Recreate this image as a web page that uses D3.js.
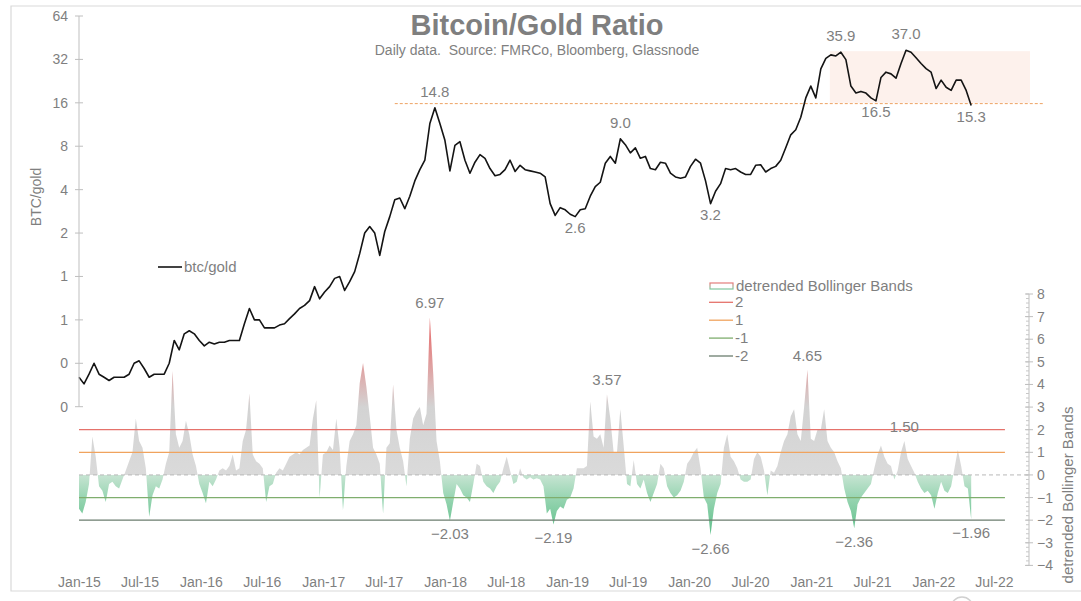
<!DOCTYPE html>
<html>
<head>
<meta charset="utf-8">
<script src="https://cdn.jsdelivr.net/npm/d3@7"></script>
<style>
  body { margin: 0; background: #fff; }
  svg { font-family: "Liberation Sans", Arial, sans-serif; }
  .lbl { fill: #7f7f7f; font-size: 14px; }
  .note { fill: #7f7f7f; font-size: 15px; text-anchor: middle; }
</style>
</head>
<body>
<svg id="chart" width="1081" height="601"></svg>
<script>
// btc/gold ratio, one reading every 15 days from 1 Jan 2015
var startDate = new Date(Date.UTC(2015, 0, 1));
var lineStepDays = 15;
var btcGold = [
  0.20,0.18,0.21,0.25,0.21,0.20,0.19,0.20,0.20,0.20,
  0.21,0.25,0.26,0.23,0.20,0.21,0.21,0.21,0.25,0.36,
  0.31,0.40,0.42,0.40,0.36,0.33,0.35,0.34,0.35,0.35,
  0.36,0.36,0.36,0.47,0.60,0.50,0.50,0.44,0.44,0.44,
  0.46,0.47,0.51,0.55,0.60,0.63,0.68,0.85,0.70,0.78,
  0.85,0.97,1.00,0.80,0.92,1.08,1.44,2.00,2.22,2.00,
  1.40,2.05,2.60,3.40,3.50,2.95,3.60,4.60,5.50,6.40,
  11.5,14.8,11.5,8.80,5.40,8.10,8.60,6.40,5.20,6.20,
  7.00,6.60,5.60,5.00,5.10,5.50,6.40,5.35,5.90,5.50,
  5.40,5.30,5.20,4.90,3.20,2.65,3.00,2.90,2.70,2.60,
  2.90,2.95,3.60,4.20,4.50,6.10,6.80,6.10,9.00,8.20,
  7.20,7.80,6.60,6.80,5.60,5.50,6.20,6.10,5.20,4.90,
  4.80,4.90,5.80,6.50,6.10,4.60,3.20,3.90,4.40,5.60,
  5.50,5.60,5.30,5.10,5.10,5.90,5.95,5.30,5.60,5.80,
  6.40,7.80,9.60,10.4,12.7,17.3,20.9,17.3,27.5,32.5,
  34.4,33.8,35.9,31.9,20.9,18.7,19.2,18.7,17.3,16.5,
  24.0,26.1,25.4,23.7,30.0,37.0,35.9,32.9,30.0,27.6,
  26.1,20.1,23.0,20.5,19.5,23.0,23.0,19.5,15.3
];

// detrended Bollinger Bands, one reading every 10 days from 1 Jan 2015
var barStepDays = 10;
var bollinger = [
  -1.5,-1.7,-1.2,-0.4,1.7,0.8,-0.5,-0.7,-1.2,-0.4,
  -0.3,-0.5,-0.6,-0.2,0.2,0.6,1.0,2.5,1.5,1.2,
  0.3,-1.85,-0.9,-0.5,-0.6,-0.2,0.5,1.0,4.6,1.8,
  1.2,1.5,2.4,1.8,0.9,0.4,-0.4,-0.8,-1.25,-0.3,
  -0.5,-0.2,0.2,0.3,0.2,0.4,0.9,0.2,0.3,1.5,
  2.0,3.6,0.9,0.6,0.5,0.3,-1.2,-0.5,-0.4,0.1,
  0.3,0.2,0.5,0.8,0.9,1.0,0.9,1.1,1.2,1.3,
  2.5,3.3,-1.0,0.9,1.0,1.3,1.1,2.5,1.2,-1.55,
  0.4,1.5,1.8,2.2,4.05,4.95,3.9,2.6,1.2,0.9,
  0.5,-1.7,1.2,1.4,4.0,2.0,1.2,0.6,-0.5,1.6,
  2.5,2.8,3.0,2.2,2.7,6.97,4.5,1.5,0.6,-0.8,
  -1.3,-2.03,-1.2,-0.4,-0.6,-0.9,-1.0,-1.2,-0.4,0.5,
  0.4,-0.3,-0.5,-0.6,-0.8,-0.5,-0.3,0.3,0.8,0.2,
  -0.4,-0.3,0.3,-0.1,-0.2,-0.1,-0.2,-0.15,-0.2,-0.5,
  -1.7,-1.5,-2.19,-1.6,-1.4,-1.5,-1.1,-1.0,-0.6,0.3,
  0.3,0.3,0.4,3.25,1.7,1.6,1.8,1.2,3.57,2.5,
  1.0,1.0,2.9,1.3,-0.4,-0.5,0.66,-0.4,-0.6,-0.2,
  -0.8,-1.2,-0.8,-0.4,0.5,0.3,-0.5,-0.8,-1.0,-0.9,
  -0.7,-0.3,0.5,0.7,1.0,1.2,0.3,-1.0,-1.3,-2.66,
  -1.5,-0.8,-0.4,1.2,1.8,0.8,0.6,0.3,-0.2,-0.3,
  -0.3,-0.2,0.7,1.0,0.8,0.2,-0.9,0.2,0.1,0.4,
  1.0,1.5,1.8,2.6,2.9,1.8,1.5,3.0,4.65,1.6,
  1.5,2.0,2.0,2.9,1.5,1.2,1.0,0.6,0.3,-0.6,
  -1.2,-1.6,-2.36,-1.3,-1.0,-0.8,-0.6,-0.4,0.3,0.9,
  1.3,0.8,0.5,0.4,-0.2,0.2,1.0,1.5,0.7,0.4,
  0.1,-0.3,-0.6,-0.8,-0.7,-0.9,-1.5,-0.8,-0.3,-0.7,
  -0.8,-0.5,0.3,1.1,0.4,-0.5,-0.6,-1.96
];

var leftTicks = [64, 32, 16, 8, 4, 2, 1, 0.5, 0.25, 0.125];
var leftTickLabels = ["64", "32", "16", "8", "4", "2", "1", "1", "0", "0"];
var rightTicks = [-4, -3, -2, -1, 0, 1, 2, 3, 4, 5, 6, 7, 8];
var xTickLabels = ["Jan-15", "Jul-15", "Jan-16", "Jul-16", "Jan-17", "Jul-17", "Jan-18", "Jul-18",
                   "Jan-19", "Jul-19", "Jan-20", "Jul-20", "Jan-21", "Jul-21", "Jan-22", "Jul-22"];

var bandLevels = [2, 1, -1, -2];
var bandNames = ["2", "1", "-1", "-2"];
var bandColors = ["#e5726b", "#f0a35e", "#7fae6e", "#6b7d6e"];
var bandEnd = "2022-08-03";

// labelled points: index into the series, label above or below
var lineNotes = [{i: 71, side: "above"}, {i: 99, side: "below"}, {i: 108, side: "above"},
                 {i: 126, side: "below"}, {i: 152, side: "above"}, {i: 159, side: "below"},
                 {i: 165, side: "above"}, {i: 178, side: "below"}];
var barNotes = [{i: 105, side: "above"}, {i: 111, side: "below"}, {i: 142, side: "below"},
                {i: 158, side: "above"}, {i: 189, side: "below"}, {i: 218, side: "above"},
                {i: 232, side: "below"}, {i: 247, side: "above"}, {i: 267, side: "below"}];

var refLevel = 15.8;
var refFrom = "2017-08-03", refTo = "2022-11-25";
var boxFrom = "2021-02-25", boxTo = "2022-10-17", boxLow = 16.0, boxHigh = 36.5;

var parseDay = d3.utcParse("%Y-%m-%d");
var parseTick = d3.utcParse("%b-%y");
var lineDate = function(i) { return d3.utcDay.offset(startDate, i * lineStepDays); };
var barDate = function(i) { return d3.utcDay.offset(startDate, i * barStepDays); };

var svg = d3.select("#chart");

var x = d3.scaleUtc()
          .domain([startDate, new Date(Date.UTC(2022, 9, 14))])
          .range([79, 1029]);
var yL = d3.scaleLog().base(2)
           .domain([0.125, 64])
           .range([406.7, 16]);
var yR = d3.scaleLinear()
           .domain([-4, 8])
           .range([565.4, 294]);

// frame
svg.append("path").attr("d", "M1081,6H11V591H1081")
   .attr("fill", "none").attr("stroke", "#d9d9d9").attr("stroke-width", 1.2);
svg.append("circle").attr("cx", 962).attr("cy", 608).attr("r", 11)
   .attr("fill", "none").attr("stroke", "#d0d0d0").attr("stroke-width", 1.5);

// gradients
var defs = svg.append("defs");
var span = yR(-4) - yR(8);
var grad = defs.append("linearGradient").attr("id", "barGrad")
               .attr("gradientUnits", "userSpaceOnUse")
               .attr("x1", 0).attr("x2", 0).attr("y1", yR(8)).attr("y2", yR(-4));
[[8, "#df5a5a"], [6, "#e47f7f"], [4.2, "#dcb2b2"], [3, "#d3d3d3"], [0.02, "#dadada"],
 [-0.02, "#c6e4d2"], [-1, "#98d5b2"], [-2.5, "#62c08c"], [-4, "#52b17c"]].forEach(function(s) {
    grad.append("stop").attr("offset", (yR(s[0]) - yR(8)) / span).attr("stop-color", s[1]);
});
var iconGrad = defs.append("linearGradient").attr("id", "iconGrad")
                   .attr("x1", 0).attr("x2", 0).attr("y1", 0).attr("y2", 1);
iconGrad.append("stop").attr("offset", 0).attr("stop-color", "#e77a7a");
iconGrad.append("stop").attr("offset", 1).attr("stop-color", "#7ccaa0");

// shaded range and reference level
svg.append("rect")
   .attr("x", x(parseDay(boxFrom)))
   .attr("width", x(parseDay(boxTo)) - x(parseDay(boxFrom)))
   .attr("y", yL(boxHigh))
   .attr("height", yL(boxLow) - yL(boxHigh))
   .attr("fill", "#fdf1ec");

svg.append("line")
   .attr("x1", x(parseDay(refFrom))).attr("x2", x(parseDay(refTo)))
   .attr("y1", yL(refLevel)).attr("y2", yL(refLevel))
   .attr("stroke", "#eea262").attr("stroke-width", 1).attr("stroke-dasharray", "3,2");

// oscillator, drawn as a filled profile around zero
var area = d3.area()
             .x(function(d, i) { return x(barDate(i)); })
             .y0(yR(0))
             .y1(function(d) { return yR(d); });
svg.append("path")
   .datum(bollinger)
   .attr("d", area)
   .attr("fill", "url(#barGrad)");

// zero line and band lines
svg.append("line")
   .attr("x1", x(startDate)).attr("x2", x.range()[1])
   .attr("y1", yR(0)).attr("y2", yR(0))
   .attr("stroke", "#b8b8b8").attr("stroke-width", 1).attr("stroke-dasharray", "4,3");

svg.append("g")
   .selectAll("line")
   .data(bandLevels)
   .enter()
   .append("line")
   .attr("x1", x(startDate))
   .attr("x2", x(parseDay(bandEnd)))
   .attr("y1", function(d) { return yR(d); })
   .attr("y2", function(d) { return yR(d); })
   .attr("stroke", function(d, i) { return bandColors[i]; })
   .attr("stroke-width", 1.3);

// btc/gold line
var line = d3.line()
             .x(function(d, i) { return x(lineDate(i)); })
             .y(function(d) { return yL(d); });
svg.append("path")
   .datum(btcGold)
   .attr("d", line)
   .attr("fill", "none")
   .attr("stroke", "#141414")
   .attr("stroke-width", 1.6)
   .attr("stroke-linejoin", "round");

// left axis
var gL = svg.append("g").attr("transform", "translate(" + x(startDate) + ",0)");
gL.append("line").attr("y1", yL(64)).attr("y2", yL(0.125)).attr("stroke", "#bfbfbf");
gL.selectAll("line.tk").data(leftTicks).enter().append("line").attr("class", "tk")
  .attr("x1", -4).attr("x2", 4)
  .attr("y1", function(d) { return yL(d); }).attr("y2", function(d) { return yL(d); })
  .attr("stroke", "#bfbfbf");
var axL = gL.append("g")
            .call(d3.axisLeft(yL).tickValues(leftTicks)
                    .tickFormat(function(d, i) { return leftTickLabels[i]; })
                    .tickSize(0).tickPadding(11));
axL.select(".domain").remove();
axL.selectAll("text").attr("class", "lbl").attr("font-family", null).attr("font-size", null).attr("fill", null);

// right axis
var gR = svg.append("g").attr("transform", "translate(" + x.range()[1] + ",0)");
gR.append("line").attr("y1", yR(8)).attr("y2", yR(-4)).attr("stroke", "#bfbfbf");
gR.selectAll("line.mn").data(d3.range(-4, 8.001, 0.2)).enter().append("line").attr("class", "mn")
  .attr("x1", -3).attr("x2", 0)
  .attr("y1", function(d) { return yR(d); }).attr("y2", function(d) { return yR(d); })
  .attr("stroke", "#c8c8c8");
gR.selectAll("line.tk").data(rightTicks).enter().append("line").attr("class", "tk")
  .attr("x1", -4).attr("x2", 4)
  .attr("y1", function(d) { return yR(d); }).attr("y2", function(d) { return yR(d); })
  .attr("stroke", "#bfbfbf");
var axR = gR.append("g")
            .call(d3.axisRight(yR).tickValues(rightTicks).tickSize(0).tickPadding(8));
axR.select(".domain").remove();
axR.selectAll("text").attr("class", "lbl").attr("font-family", null).attr("font-size", null).attr("fill", null);

// bottom axis
var axB = svg.append("g")
             .attr("transform", "translate(0,576)")
             .call(d3.axisBottom(x)
                     .tickValues(xTickLabels.map(function(s) { return parseTick(s); }))
                     .tickFormat(function(d, i) { return xTickLabels[i]; })
                     .tickSize(0).tickPadding(1));
axB.select(".domain").remove();
axB.selectAll("text").attr("class", "lbl").attr("font-family", null).attr("font-size", null).attr("fill", null);

// axis titles
svg.append("text").attr("class", "lbl")
   .attr("transform", "translate(41,197) rotate(-90)")
   .attr("text-anchor", "middle").text("BTC/gold");
svg.append("text").attr("class", "lbl").style("font-size", "15px")
   .attr("transform", "translate(1073,495) rotate(-90)")
   .attr("text-anchor", "middle").text("detrended Bollinger Bands");

// title
svg.append("text")
   .attr("x", 537).attr("y", 35)
   .attr("text-anchor", "middle")
   .attr("font-size", "29px").attr("font-weight", "bold").attr("fill", "#7f7f7f")
   .text("Bitcoin/Gold Ratio");
svg.append("text")
   .attr("x", 537).attr("y", 55)
   .attr("text-anchor", "middle")
   .attr("font-size", "14px").attr("fill", "#7f7f7f")
   .style("white-space", "pre")
   .text("Daily data.  Source: FMRCo, Bloomberg, Glassnode");

// point labels
svg.append("g").selectAll("text")
   .data(lineNotes)
   .enter()
   .append("text")
   .attr("class", "note")
   .attr("x", function(d) { return x(lineDate(d.i)); })
   .attr("y", function(d) { return yL(btcGold[d.i]) + (d.side == "above" ? -11 : 16); })
   .text(function(d) { return d3.format(".1f")(btcGold[d.i]); });

svg.append("g").selectAll("text")
   .data(barNotes)
   .enter()
   .append("text")
   .attr("class", "note")
   .attr("x", function(d) { return x(barDate(d.i)); })
   .attr("y", function(d) { return yR(bollinger[d.i]) + (d.side == "above" ? -9 : 18.5); })
   .text(function(d) { return d3.format(".2f")(bollinger[d.i]); });

// legends
var lg1 = svg.append("g").attr("transform", "translate(158,267)");
lg1.append("line").attr("x1", 0).attr("x2", 24).attr("stroke", "#141414").attr("stroke-width", 1.6);
lg1.append("text").attr("class", "lbl").style("font-size", "15px").attr("x", 26).attr("y", 5).text("btc/gold");

var lg2 = svg.append("g").attr("transform", "translate(709,0)");
lg2.append("rect").attr("x", 1).attr("y", 283).attr("width", 23).attr("height", 6)
   .attr("fill", "#fff").attr("stroke", "url(#iconGrad)").attr("stroke-width", 1.2);
lg2.append("text").attr("class", "lbl").style("font-size", "15px")
   .attr("x", 27).attr("y", 291).text("detrended Bollinger Bands");
var items = lg2.selectAll("g.item")
               .data(bandNames)
               .enter()
               .append("g")
               .attr("class", "item")
               .attr("transform", function(d, i) { return "translate(0," + (302.3 + i * 17.9) + ")"; });
items.append("line").attr("x1", 0).attr("x2", 24)
     .attr("stroke", function(d, i) { return bandColors[i]; }).attr("stroke-width", 1.3);
items.append("text").attr("class", "lbl").style("font-size", "15px")
     .attr("x", 26).attr("y", 5).text(function(d) { return d; });
</script>
</body>
</html>
